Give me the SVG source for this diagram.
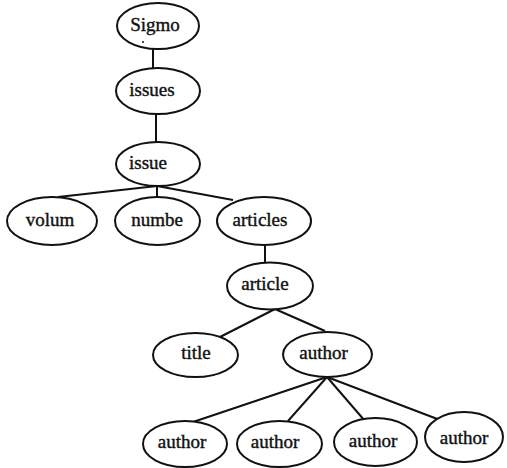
<svg xmlns="http://www.w3.org/2000/svg" width="507" height="468" viewBox="0 0 507 468">
<style>
.n ellipse{fill:#fff;stroke:#111;stroke-width:2}
.n text{font-family:"Liberation Serif","Times New Roman",serif;font-size:19px;fill:#111;stroke:#111;stroke-width:0.4;text-anchor:middle}
.c line{stroke:#111;stroke-width:2}
</style>
<rect width="507" height="468" fill="#fff"/>
<g class="c" id="connectors">
<line x1="153" y1="49" x2="153" y2="68"/>
<line x1="156" y1="114" x2="156" y2="142"/>
<line x1="157" y1="186" x2="58" y2="197"/>
<line x1="157" y1="186" x2="157" y2="197"/>
<line x1="157" y1="186" x2="233" y2="200"/>
<line x1="265" y1="245" x2="265" y2="263"/>
<line x1="275" y1="309" x2="220" y2="337"/>
<line x1="275" y1="309" x2="325" y2="331"/>
<line x1="327" y1="377" x2="193" y2="422"/>
<line x1="327" y1="377" x2="288" y2="421"/>
<line x1="327" y1="377" x2="365" y2="421"/>
<line x1="327" y1="377" x2="440" y2="420"/>
</g>
<g class="n" id="sigmo"><ellipse cx="158" cy="26" rx="41" ry="23"/><text x="155" y="31">Sigmo</text><circle cx="143" cy="42" r="1" fill="#111"/></g>
<g class="n" id="issues"><ellipse cx="158" cy="91" rx="42" ry="23"/><text x="152" y="96">issues</text></g>
<g class="n" id="issue"><ellipse cx="158" cy="164" rx="42" ry="22"/><text x="148" y="169">issue</text></g>
<g class="n" id="volum"><ellipse cx="52" cy="221" rx="45" ry="24"/><text x="50" y="226">volum</text></g>
<g class="n" id="numbe"><ellipse cx="157.5" cy="221" rx="42.5" ry="24"/><text x="157" y="226">numbe</text></g>
<g class="n" id="articles"><ellipse cx="264" cy="221" rx="47" ry="24"/><text x="260" y="226">articles</text></g>
<g class="n" id="article"><ellipse cx="270" cy="286" rx="43" ry="23.5"/><text x="265" y="290">article</text></g>
<g class="n" id="title"><ellipse cx="195.5" cy="355" rx="42.5" ry="22"/><text x="196" y="359">title</text></g>
<g class="n" id="author"><ellipse cx="327.5" cy="354.5" rx="44.5" ry="22.5"/><text x="323.5" y="359">author</text></g>
<g class="n" id="author1"><ellipse cx="185" cy="444" rx="42" ry="23"/><text x="182" y="448">author</text></g>
<g class="n" id="author2"><ellipse cx="279.5" cy="444" rx="42.5" ry="23"/><text x="275" y="448">author</text></g>
<g class="n" id="author3"><ellipse cx="375.5" cy="442" rx="41.5" ry="24"/><text x="373" y="447">author</text></g>
<g class="n" id="author4"><ellipse cx="464" cy="437" rx="39" ry="25"/><text x="464" y="444">author</text></g>
</svg>
